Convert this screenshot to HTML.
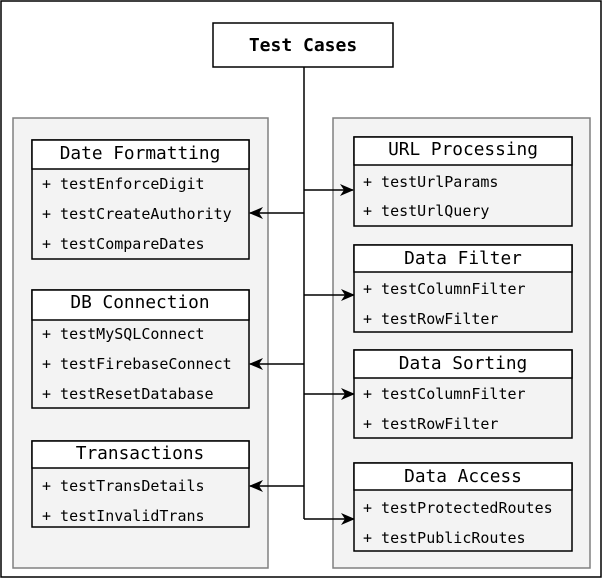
<!DOCTYPE html>
<html><head><meta charset="utf-8"><style>
html,body{margin:0;padding:0;background:#fff;}
svg{display:block;}
text{font-family:"DejaVu Sans Mono","Liberation Mono",monospace;fill:#000;}
.h{font-size:17.8px;text-anchor:middle;}
.i{font-size:15px;}
</style></head><body>
<svg width="603" height="581" viewBox="0 0 603 581" xmlns="http://www.w3.org/2000/svg">
<defs><marker id="a" markerWidth="14" markerHeight="12" refX="13" refY="6" orient="auto" markerUnits="userSpaceOnUse"><path d="M0,0 L14,6 L0,12 L4,6 Z" fill="#000"/></marker></defs>
<rect x="1" y="1" width="600" height="576" fill="#fff" stroke="#000" stroke-width="1.5"/>
<rect x="13" y="118" width="255" height="450" fill="#f3f3f3" stroke="#808080" stroke-width="1.5"/>
<rect x="333" y="118" width="257" height="450" fill="#f3f3f3" stroke="#808080" stroke-width="1.5"/>
<rect x="213" y="23" width="180" height="44" fill="#fff" stroke="#000" stroke-width="1.5"/>
<text x="303" y="51" class="h" style="font-weight:bold;font-size:18px">Test Cases</text>
<g fill="none" stroke="#000" stroke-width="1.5">
<path d="M304,67 V519"/>
<path d="M304,190 H353" marker-end="url(#a)"/>
<path d="M304,295 H354" marker-end="url(#a)"/>
<path d="M304,394 H354" marker-end="url(#a)"/>
<path d="M304,519 H354" marker-end="url(#a)"/>
<path d="M304,213 H250" marker-end="url(#a)"/>
<path d="M304,364 H250" marker-end="url(#a)"/>
<path d="M304,486 H250" marker-end="url(#a)"/>
</g>
<g stroke="#000" stroke-width="1.5">
<rect x="32" y="140" width="217" height="119" fill="#f3f3f3"/><rect x="32" y="140" width="217" height="29" fill="#fff"/>
<rect x="32" y="290" width="217" height="118" fill="#f3f3f3"/><rect x="32" y="290" width="217" height="30" fill="#fff"/>
<rect x="32" y="441" width="217" height="86" fill="#f3f3f3"/><rect x="32" y="441" width="217" height="27" fill="#fff"/>
<rect x="354" y="137" width="218" height="89" fill="#f3f3f3"/><rect x="354" y="137" width="218" height="28" fill="#fff"/>
<rect x="354" y="245" width="218" height="87" fill="#f3f3f3"/><rect x="354" y="245" width="218" height="27" fill="#fff"/>
<rect x="354" y="350" width="218" height="88" fill="#f3f3f3"/><rect x="354" y="350" width="218" height="28" fill="#fff"/>
<rect x="354" y="463" width="218" height="88" fill="#f3f3f3"/><rect x="354" y="463" width="218" height="27" fill="#fff"/>
</g>
<text x="140" y="159" class="h">Date Formatting</text>
<text x="42" y="189" class="i">+ testEnforceDigit</text>
<text x="42" y="219" class="i">+ testCreateAuthority</text>
<text x="42" y="249" class="i">+ testCompareDates</text>
<text x="140" y="308" class="h">DB Connection</text>
<text x="42" y="339" class="i">+ testMySQLConnect</text>
<text x="42" y="369" class="i">+ testFirebaseConnect</text>
<text x="42" y="399" class="i">+ testResetDatabase</text>
<text x="140" y="459" class="h">Transactions</text>
<text x="42" y="491" class="i">+ testTransDetails</text>
<text x="42" y="521" class="i">+ testInvalidTrans</text>
<text x="463" y="155" class="h">URL Processing</text>
<text x="363" y="187" class="i">+ testUrlParams</text>
<text x="363" y="216" class="i">+ testUrlQuery</text>
<text x="463" y="264" class="h">Data Filter</text>
<text x="363" y="294" class="i">+ testColumnFilter</text>
<text x="363" y="324" class="i">+ testRowFilter</text>
<text x="463" y="369" class="h">Data Sorting</text>
<text x="363" y="399" class="i">+ testColumnFilter</text>
<text x="363" y="429" class="i">+ testRowFilter</text>
<text x="463" y="482" class="h">Data Access</text>
<text x="363" y="513" class="i">+ testProtectedRoutes</text>
<text x="363" y="543" class="i">+ testPublicRoutes</text>
</svg>
</body></html>
